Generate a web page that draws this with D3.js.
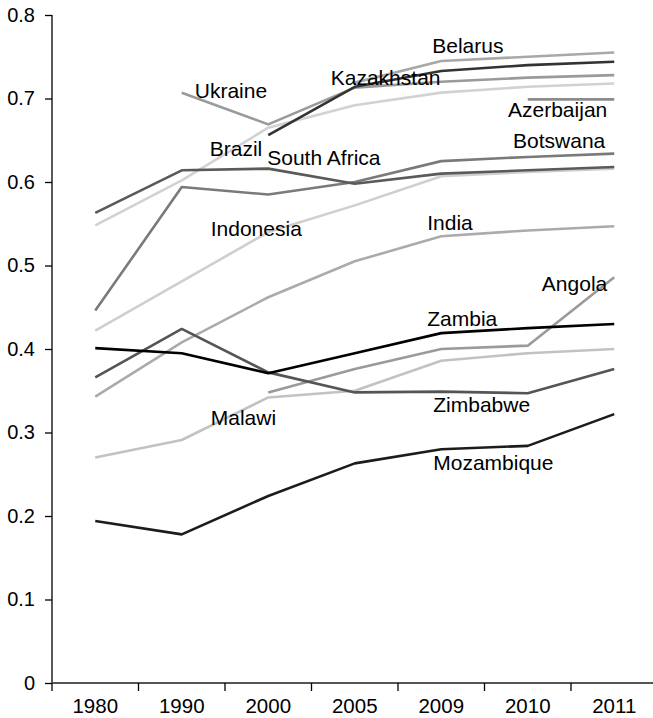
<!DOCTYPE html>
<html>
<head>
<meta charset="utf-8">
<script src="https://cdn.jsdelivr.net/npm/d3@7/dist/d3.min.js"></script>
<style>
  html, body { margin: 0; padding: 0; background: #fff; }
  svg { display: block; font-family: "Liberation Sans", Arial, Helvetica, sans-serif; }
</style>
</head>
<body>
<svg id="chart" width="653" height="718"></svg>
<script>
// ---- data ----
const years = ["1980", "1990", "2000", "2005", "2009", "2010", "2011"];
const yTicks = [0, 0.1, 0.2, 0.3, 0.4, 0.5, 0.6, 0.7, 0.8];

const belarus    = [null, null, null, 0.719, 0.745, 0.750, 0.755];
const kazakhstan = [null, null, 0.656, 0.714, 0.733, 0.740, 0.744];
const ukraine    = [null, 0.707, 0.669, 0.713, 0.720, 0.725, 0.728];
const brazil     = [0.548, 0.602, 0.665, 0.692, 0.707, 0.714, 0.718];
const azerbaijan = [null, null, null, null, null, 0.699, 0.699];
const botswana   = [0.446, 0.594, 0.585, 0.600, 0.625, 0.630, 0.634];
const southAfrica= [0.563, 0.614, 0.616, 0.598, 0.610, 0.614, 0.618];
const indonesia  = [0.422, 0.481, 0.540, 0.572, 0.607, 0.612, 0.616];
const india      = [0.343, 0.408, 0.462, 0.505, 0.535, 0.542, 0.547];
const angola     = [null, null, 0.348, 0.376, 0.400, 0.404, 0.486];
const zambia     = [0.401, 0.395, 0.371, 0.395, 0.419, 0.425, 0.430];
const malawi     = [0.270, 0.291, 0.342, 0.350, 0.386, 0.395, 0.400];
const zimbabwe   = [0.366, 0.424, 0.372, 0.348, 0.349, 0.347, 0.376];
const mozambique = [0.194, 0.178, 0.224, 0.263, 0.280, 0.284, 0.322];

const countries = ["Belarus", "Kazakhstan", "Ukraine", "Brazil", "Azerbaijan", "Botswana", "South Africa",
                   "Indonesia", "India", "Angola", "Zambia", "Malawi", "Zimbabwe", "Mozambique"];
const seriesValues = [belarus, kazakhstan, ukraine, brazil, azerbaijan, botswana, southAfrica,
                      indonesia, india, angola, zambia, malawi, zimbabwe, mozambique];

// ---- styles ----
const colors = {
  "Belarus": "#a8a8a8", "Kazakhstan": "#333333", "Ukraine": "#9a9a9a", "Brazil": "#d2d2d2",
  "Azerbaijan": "#8c8c8c", "Botswana": "#7a7a7a", "South Africa": "#5a5a5a", "Indonesia": "#cfcfcf",
  "India": "#ababab", "Angola": "#9a9a9a", "Zambia": "#000000", "Malawi": "#c2c2c2",
  "Zimbabwe": "#555555", "Mozambique": "#1c1c1c"
};
// label placement: anchor category, pixel offset, baseline value, text-anchor
const labelPlacement = {
  "Ukraine":      ["1990", 13, 0.7006, "start"],
  "Brazil":       ["1990", 28, 0.631, "start"],
  "South Africa": ["2000", -1, 0.620, "start"],
  "Kazakhstan":   ["2005", -24, 0.716, "start"],
  "Belarus":      ["2009", -9, 0.755, "start"],
  "Azerbaijan":   ["2011", -7, 0.678, "end"],
  "Botswana":     ["2011", -9, 0.641, "end"],
  "Indonesia":    ["1990", 29, 0.535, "start"],
  "India":        ["2009", -14, 0.542, "start"],
  "Angola":       ["2011", -7, 0.470, "end"],
  "Zambia":       ["2009", -14, 0.427, "start"],
  "Malawi":       ["1990", 29, 0.309, "start"],
  "Zimbabwe":     ["2009", -8, 0.325, "start"],
  "Mozambique":   ["2009", -8, 0.255, "start"]
};

// ---- layout ----
const svg = d3.select("#chart");
const mLeft = 52, mTop = 15, mBottom = 683, mRight = 657.5;

const x = d3.scaleBand().domain(years).range([mLeft, mRight]).padding(0);
const y = d3.scaleLinear().domain([0, 0.8]).range([mBottom, mTop]);
const cx = yr => x(yr) + x.bandwidth() / 2;

// y axis
const yAxis = d3.axisLeft(y).tickValues(yTicks)
  .tickFormat(d => d === 0 ? "0" : d3.format(".1f")(d))
  .tickSize(7).tickPadding(10);
const gy = svg.append("g").attr("transform", `translate(${mLeft},0)`).call(yAxis);
gy.select(".domain").attr("d", `M0,${y(0.8)}V${y(0)}`).attr("stroke", "#000").attr("stroke-width", 1.3);
gy.selectAll(".tick line").attr("stroke", "#000").attr("stroke-width", 1.3);
gy.selectAll(".tick text").attr("font-size", 20).attr("fill", "#000")
  .attr("font-family", "Liberation Sans, Arial, sans-serif");

// x axis: band boundary ticks
const gx = svg.append("g").attr("transform", `translate(0,${mBottom})`);
gx.append("line").attr("x1", mLeft).attr("x2", 653).attr("y1", 0).attr("y2", 0)
  .attr("stroke", "#555").attr("stroke-width", 2);
gx.selectAll("line.tk").data(years).join("line").attr("class", "tk")
  .attr("x1", d => x(d)).attr("x2", d => x(d)).attr("y1", 0).attr("y2", 8)
  .attr("stroke", "#000").attr("stroke-width", 1.3);
gx.selectAll("text").data(years).join("text")
  .attr("x", d => cx(d)).attr("y", 30)
  .attr("text-anchor", "middle").attr("font-size", 20.5).attr("fill", "#000")
  .text(d => d);

// lines
const line = d3.line().defined(d => d.v != null).x(d => cx(d.yr)).y(d => y(d.v));
const plotData = countries.map((c, i) => ({
  name: c,
  pts: years.map((yr, j) => ({ yr, v: seriesValues[i][j] }))
}));
// draw light first so dark lines sit on top
const order = plotData.slice().sort((a, b) => d3.descending(d3.hsl(colors[a.name]).l, d3.hsl(colors[b.name]).l));
svg.append("g").selectAll("path").data(order).join("path")
  .attr("d", d => line(d.pts))
  .attr("fill", "none")
  .attr("stroke", d => colors[d.name])
  .attr("stroke-width", 2.6)
  .attr("stroke-linejoin", "round");

// labels
svg.append("g").selectAll("text").data(countries).join("text")
  .attr("x", c => cx(labelPlacement[c][0]) + labelPlacement[c][1])
  .attr("y", c => y(labelPlacement[c][2]))
  .attr("text-anchor", c => labelPlacement[c][3])
  .attr("font-size", 21).attr("fill", "#000")
  .text(c => c);
</script>
</body>
</html>
